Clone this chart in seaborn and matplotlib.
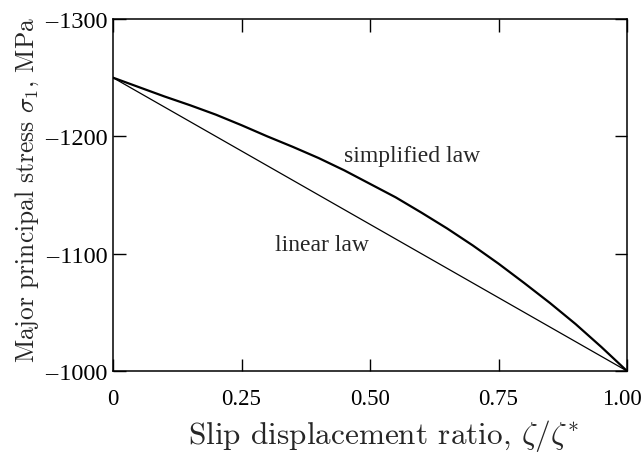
import numpy as np
import pandas as pd
import matplotlib
matplotlib.use("Agg")
import matplotlib.pyplot as plt
import matplotlib.transforms as mtransforms
import seaborn as sns

# slip displacement ratio and stresses
ratio = [0.0, 0.05, 0.1, 0.15, 0.2, 0.25, 0.3, 0.35, 0.4, 0.45, 0.5,
         0.55, 0.6, 0.65, 0.7, 0.75, 0.8, 0.85, 0.9, 0.95, 1.0]
simplified = [-1250, -1242, -1234, -1226.5, -1218.5, -1209.5, -1200, -1191, -1181.5, -1171, -1159.5,
              -1148, -1135, -1121.5, -1107, -1091.5, -1075, -1058, -1040, -1020.5, -1000]
linear_x = [0.0, 1.0]
linear = [-1250, -1000]

x_ticks = [0, 0.25, 0.5, 0.75, 1.0]
x_tick_labels = ["0", "0.25", "0.50", "0.75", "1.00"]
y_ticks = [-1300, -1200, -1100, -1000]
y_tick_labels = ["\u2013\u200a1300", "\u2013\u200a1200", "\u2013\u200a1100", "\u2013\u200a1000"]

sns.set_theme(style="ticks")
plt.rcParams["font.family"] = ["Liberation Serif", "DejaVu Serif"]
plt.rcParams["mathtext.fontset"] = "cm"

df_s = pd.DataFrame({"ratio": ratio, "stress": simplified})
df_l = pd.DataFrame({"ratio": linear_x, "stress": linear})

fig, ax = plt.subplots(figsize=(6.43, 4.56), dpi=100)
sns.lineplot(data=df_s, x="ratio", y="stress", color="black", linewidth=1.6, ax=ax)
sns.lineplot(data=df_l, x="ratio", y="stress", color="black", linewidth=0.9, ax=ax)

ax.set_xlim(0, 1)
ax.set_ylim(-1000, -1300)
ax.set_xticks(x_ticks)
ax.set_xticklabels(x_tick_labels)
ax.set_yticks(y_ticks)
ax.set_yticklabels(y_tick_labels)

ax.tick_params(direction="in", length=9, width=1.0, top=True, right=True,
               labelsize=16.5, colors="black")
ax.tick_params(axis="x", pad=12)
ax.tick_params(axis="y", pad=4, labelsize=17.5)
for sp in ax.spines.values():
    sp.set_linewidth(1.1)
    sp.set_color("black")

# last x label sits a little left so it stays inside the figure
last = ax.get_xticklabels()[-1]
last.set_transform(last.get_transform() + mtransforms.ScaledTranslation(-5/100, 0, fig.dpi_scale_trans))

ax.set_xlabel(r"Slip displacement ratio, $\zeta/\zeta^{*}$", fontsize=22.5, labelpad=6,
              fontfamily=["cmr10", "DejaVu Serif"])
ax.set_ylabel(r"Major principal stress $\sigma_1$, MPa", fontsize=18.3, labelpad=3,
              fontfamily=["cmr10", "DejaVu Serif"])
ax.xaxis.label.set_x(0.527)
ax.yaxis.label.set_y(0.518)

ax.text(0.582, -1184, "simplified law", fontsize=17, ha="center", va="center")
ax.text(0.407, -1108, "linear law", fontsize=17, ha="center", va="center")

fig.subplots_adjust(left=113/643, right=627/643, top=1 - 20/456, bottom=1 - 372/456)
fig.savefig("out.png", dpi=100)
